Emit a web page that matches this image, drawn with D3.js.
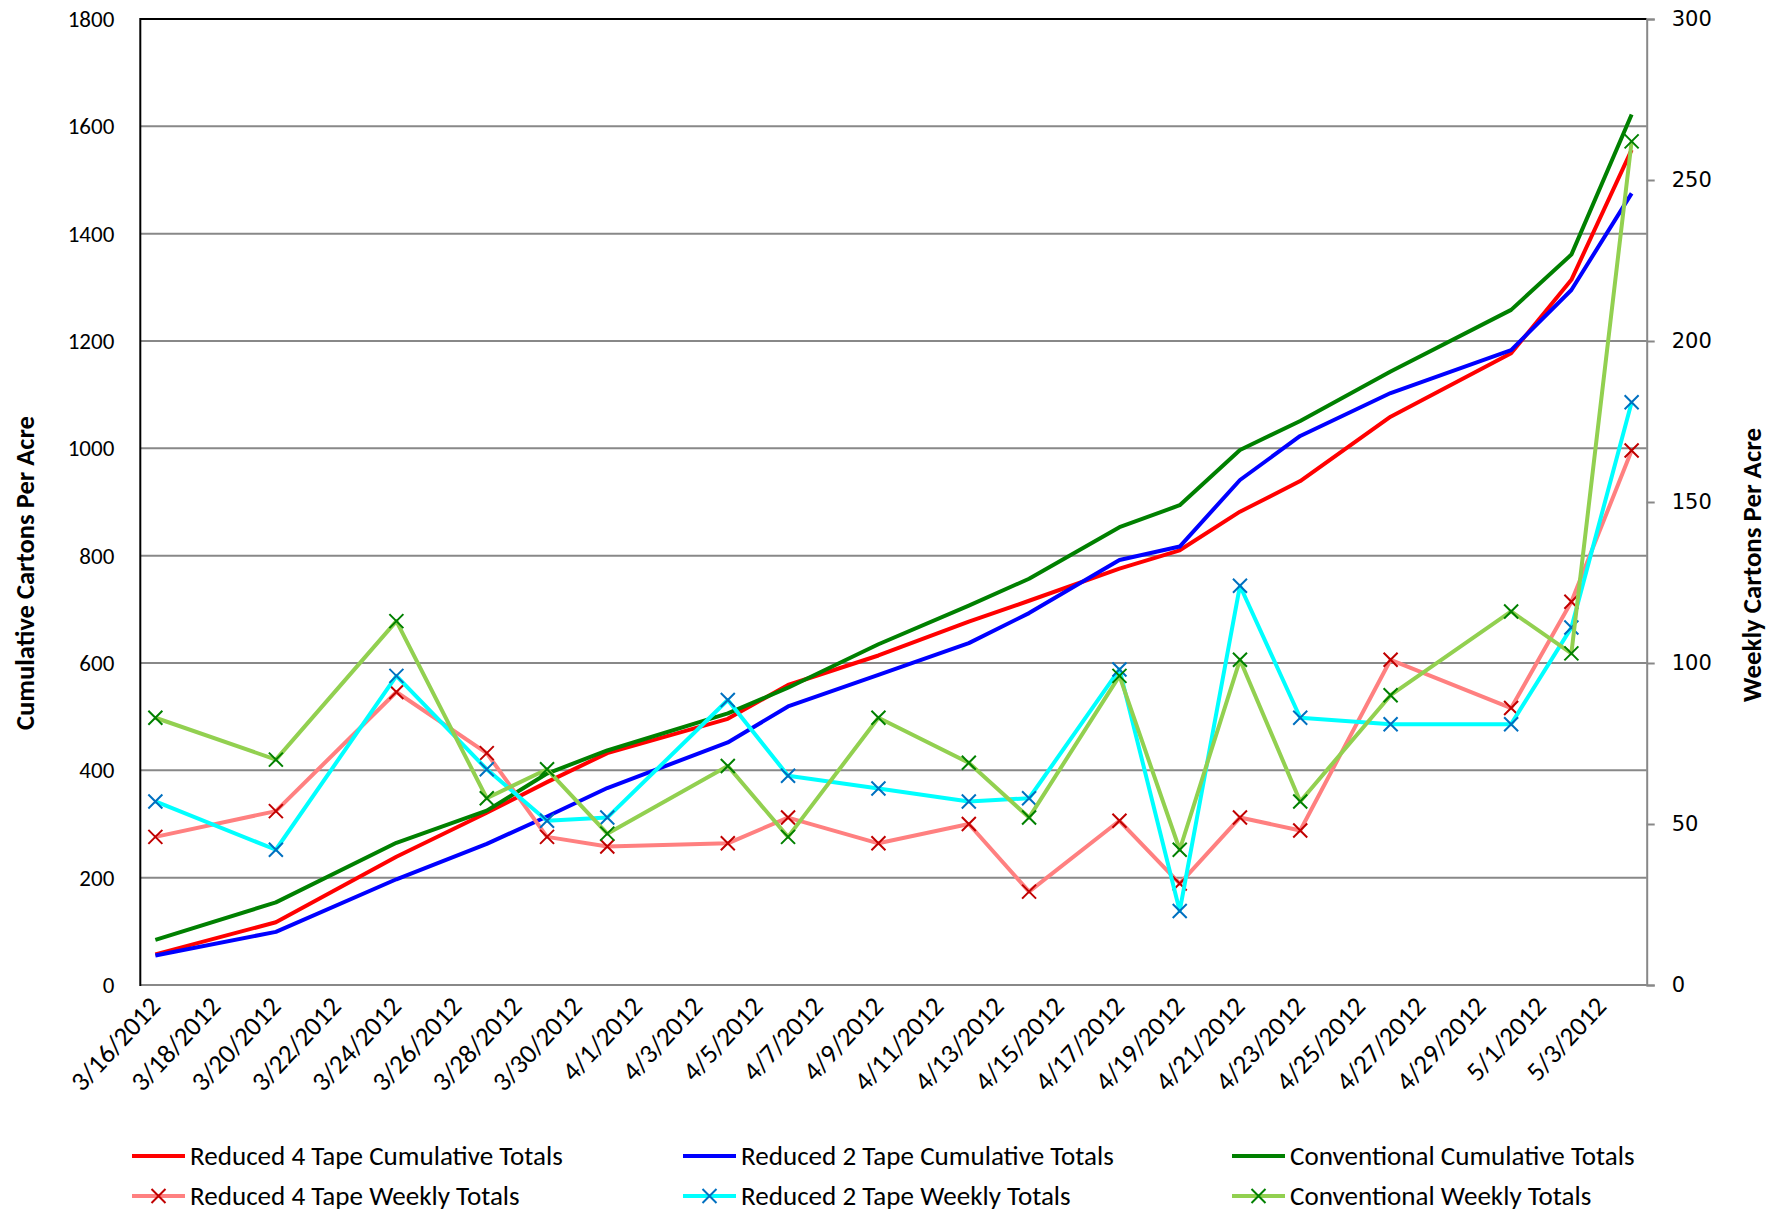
<!DOCTYPE html>
<html><head><meta charset="utf-8">
<script src="https://cdn.jsdelivr.net/npm/d3@7"></script>
<style>body{margin:0;background:#fff}</style>
</head><body><svg id="c" width="1776" height="1225"></svg>
<script>
// ---------- data ----------
const tickLabels = ["3/16/2012","3/18/2012","3/20/2012","3/22/2012","3/24/2012","3/26/2012","3/28/2012","3/30/2012",
  "4/1/2012","4/3/2012","4/5/2012","4/7/2012","4/9/2012","4/11/2012","4/13/2012","4/15/2012","4/17/2012","4/19/2012",
  "4/21/2012","4/23/2012","4/25/2012","4/27/2012","4/29/2012","5/1/2012","5/3/2012"];
const dates = ["3/16/2012","3/20/2012","3/24/2012","3/27/2012","3/29/2012","3/31/2012","4/4/2012","4/6/2012","4/9/2012",
  "4/12/2012","4/14/2012","4/17/2012","4/19/2012","4/21/2012","4/23/2012","4/26/2012","4/30/2012","5/2/2012","5/4/2012"];
const r4Cumulative   = [57, 117, 239, 321, 378, 432, 496, 559, 614, 677, 716, 776, 810, 882, 939, 1059, 1177, 1314, 1556];
const r2Cumulative   = [55, 99, 197, 263, 314, 367, 452, 519, 578, 637, 693, 792, 817, 941, 1023, 1103, 1183, 1295, 1475];
const convCumulative = [84, 154, 265, 325, 394, 437, 506, 554, 635, 707, 757, 853, 894, 997, 1051, 1143, 1258, 1361, 1622];
const r4Weekly   = [46, 54, 91, 72, 46, 43, 44, 52, 44, 50, 29, 51, 31.5, 52, 48, 101, 86, 119, 166];
const r2Weekly   = [57, 42, 96, 67, 51, 52, 88.5, 65, 61, 57, 58, 98, 23, 124, 83, 81, 81, 111, 181];
const convWeekly = [83, 70, 113, 58, 67, 47, 68, 46, 83, 69, 52, 96, 42, 101, 57, 90, 116, 103, 262];
const leftTicks  = [0, 200, 400, 600, 800, 1000, 1200, 1400, 1600, 1800];
const rightTicks = [0, 50, 100, 150, 200, 250, 300];
const seriesNames = ["Reduced 4 Tape Cumulative Totals","Reduced 2 Tape Cumulative Totals","Conventional Cumulative Totals",
  "Reduced 4 Tape Weekly Totals","Reduced 2 Tape Weekly Totals","Conventional Weekly Totals"];
const axisStart = "3/16/2012", axisEnd = "5/5/2012";

// ---------- setup ----------
const FONT = "Carlito, Calibri, Lato, sans-serif";
const svg = d3.select("#c");
const P = {l:140.3, r:1646.7, t:19, b:985};
const parse = d3.utcParse("%m/%d/%Y");
const fmt = d3.utcFormat("%-m/%-d/%Y");
const mid = s => d3.utcHour.offset(parse(s), 12);
const x = d3.scaleUtc().domain([parse(axisStart), parse(axisEnd)]).range([P.l, P.r]);
const yL = d3.scaleLinear().domain([0,1800]).range([P.b, P.t]);
const yR = d3.scaleLinear().domain([0,300]).range([P.b, P.t]);

// gridlines
svg.append("g").selectAll("line").data(leftTicks.filter(v => v>0 && v<1800)).join("line")
  .attr("x1", P.l).attr("x2", P.r).attr("y1", d=>yL(d)).attr("y2", d=>yL(d))
  .attr("stroke", "#888").attr("stroke-width", 2);
svg.append("line").attr("x1",P.l).attr("x2",P.r).attr("y1",yL(0)).attr("y2",yL(0)).attr("stroke","#888").attr("stroke-width",2);
svg.append("line").attr("x1",P.l).attr("x2",P.r).attr("y1",yL(1800)).attr("y2",yL(1800)).attr("stroke","#000").attr("stroke-width",2);

// left axis
const gL = svg.append("g").attr("transform",`translate(${P.l},0)`)
  .call(d3.axisLeft(yL).tickValues(leftTicks).tickFormat(d3.format("d")).tickSize(0).tickPadding(26));
gL.select(".domain").remove();
gL.selectAll("text").attr("font-family",FONT).attr("font-size",23).attr("fill","#000");
svg.append("line").attr("x1",P.l).attr("x2",P.l).attr("y1",P.t-1).attr("y2",P.b+1).attr("stroke","#000").attr("stroke-width",2);

// right axis
const gR = svg.append("g").attr("transform",`translate(${P.r},0)`)
  .call(d3.axisRight(yR).tickValues(rightTicks).tickSize(8).tickPadding(17));
gR.select(".domain").attr("stroke","#888").attr("stroke-width",2);
gR.selectAll(".tick line").attr("stroke","#888").attr("stroke-width",2);
gR.selectAll("text").attr("font-family","DejaVu Sans, Verdana, sans-serif").attr("font-size",21).attr("fill","#000");

// bottom axis
const gB = svg.append("g").attr("transform",`translate(0,${P.b})`)
  .call(d3.axisBottom(x).tickValues(tickLabels.map(mid)).tickFormat(fmt).tickSize(0));
gB.select(".domain").remove();
gB.selectAll("text").attr("font-family",FONT).attr("font-size",27).attr("fill","#000")
  .attr("text-anchor","end").attr("x",0).attr("y",0).attr("dy","0.35em")
  .attr("transform","translate(-1,16) rotate(-47)");

// axis titles
function fitText(sel, target){
  const w = sel.node().getComputedTextLength();
  const fs = parseFloat(sel.attr("font-size"));
  sel.attr("font-size", fs*target/w);
  return fs*target/w;
}
const tL = svg.append("text").attr("transform","translate(25,573) rotate(-90)").attr("text-anchor","middle")
  .attr("dy","0.35em").attr("font-family",FONT).attr("font-weight","bold").attr("font-size",22).text("Cumulative Cartons Per Acre");
fitText(tL, 314);
const tR = svg.append("text").attr("transform","translate(1752,565) rotate(-90)").attr("text-anchor","middle")
  .attr("dy","0.35em").attr("font-family",FONT).attr("font-weight","bold").attr("font-size",22).text("Weekly Cartons Per Acre");
fitText(tR, 274);

// ---------- series ----------
const colors = ["#FF0000","#0000FF","#008000","#FF8080","#00FFFF","#92D050"];
const markerColors = [null,null,null,"#C00000","#0070C0","#008000"];
const series = [
  {vals:r4Cumulative, y:yL}, {vals:r2Cumulative, y:yL}, {vals:convCumulative, y:yL},
  {vals:r4Weekly, y:yR}, {vals:r2Weekly, y:yR}, {vals:convWeekly, y:yR}
];
const xMark = (cx,cy) => `M${cx-7},${cy-7}L${cx+7},${cy+7}M${cx-7},${cy+7}L${cx+7},${cy-7}`;
series.forEach((s,i) => {
  const pts = dates.map((d,j) => [x(mid(d)), s.y(s.vals[j])]);
  svg.append("path").attr("d", d3.line()(pts)).attr("fill","none")
    .attr("stroke", colors[i]).attr("stroke-width", 4).attr("stroke-linejoin","round");
  if (markerColors[i]) {
    svg.append("g").selectAll("path").data(pts).join("path")
      .attr("d", p => xMark(p[0],p[1]))
      .attr("stroke", markerColors[i]).attr("stroke-width", 2).attr("fill","none");
  }
});

// ---------- legend ----------
const legPos = [[132,1156],[683,1156],[1232,1156],[132,1196],[683,1196],[1232,1196]];
let legFs = null;
seriesNames.forEach((name,i) => {
  const [lx,ly] = legPos[i];
  const g = svg.append("g");
  g.append("line").attr("x1",lx).attr("x2",lx+53).attr("y1",ly).attr("y2",ly).attr("stroke",colors[i]).attr("stroke-width",4);
  if (markerColors[i]) {
    g.append("path").attr("d", xMark(lx+26.5, ly)).attr("stroke",markerColors[i]).attr("stroke-width",2);
  }
  const t = g.append("text").attr("x",lx+58).attr("y",ly).attr("dy","0.35em")
    .attr("font-family",FONT).attr("font-size",22).text(name);
  if (i===0) legFs = fitText(t, 373);
  else t.attr("font-size", legFs);
});
</script></body></html>
